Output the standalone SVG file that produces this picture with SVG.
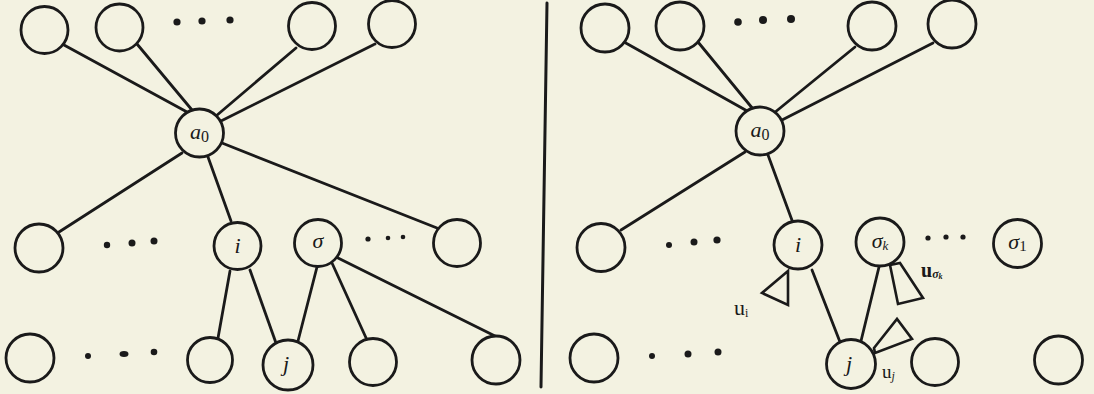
<svg xmlns="http://www.w3.org/2000/svg" width="1094" height="394" viewBox="0 0 1094 394">
<style>
.bg{fill:#f3f2e1}
.n{fill:#f3f2e1;stroke:#1a1a1a;stroke-width:2.8}
.e{stroke:#1a1a1a;stroke-width:2.8;stroke-linecap:round;fill:none}
.t{fill:none;stroke:#1a1a1a;stroke-width:2.6;stroke-linejoin:miter}
.d{fill:#1a1a1a}
.lbl{font-family:"Liberation Serif",serif;font-style:italic;font-size:22px;fill:#1a1a1a;text-anchor:middle}
.u{font-family:"Liberation Serif",serif;fill:#1a1a1a}
</style>
<rect class="bg" x="0" y="0" width="1094" height="394"/>
<g id="connectors">
  <line class="e" x1="64" y1="45" x2="187" y2="112"/>
  <line class="e" x1="137" y1="44" x2="192" y2="110"/>
  <line class="e" x1="296" y1="48" x2="216" y2="116"/>
  <line class="e" x1="375" y1="44" x2="221" y2="121"/>
  <line class="e" x1="182" y1="153" x2="59" y2="232"/>
  <line class="e" x1="208" y1="157" x2="231" y2="221"/>
  <line class="e" x1="222" y1="143" x2="437" y2="228"/>
  <line class="e" x1="230" y1="271" x2="218" y2="338"/>
  <line class="e" x1="250" y1="270" x2="276" y2="343"/>
  <line class="e" x1="317" y1="267" x2="298" y2="341"/>
  <line class="e" x1="332" y1="263" x2="367" y2="340"/>
  <line class="e" x1="338" y1="258" x2="497" y2="337"/>
  <line class="e" x1="624" y1="42" x2="749" y2="112"/>
  <line class="e" x1="698" y1="42" x2="753" y2="109"/>
  <line class="e" x1="855" y1="47" x2="774" y2="113"/>
  <line class="e" x1="933" y1="43" x2="782" y2="120"/>
  <line class="e" x1="745" y1="152" x2="621" y2="230"/>
  <line class="e" x1="768" y1="155" x2="793" y2="223"/>
  <line class="e" x1="812" y1="270" x2="840" y2="342"/>
  <line class="e" x1="879" y1="267" x2="861" y2="341"/>
</g>
<g id="divider">
  <line x1="547" y1="3" x2="541" y2="387" stroke="#1a1a1a" stroke-width="3" stroke-linecap="round"/>
</g>
<g id="dots">
  <circle class="d" cx="177" cy="22" r="3.6"/><circle class="d" cx="202" cy="21" r="3.6"/><circle class="d" cx="230" cy="20" r="3.6"/>
  <circle class="d" cx="107" cy="245" r="3.2"/><circle class="d" cx="132" cy="243" r="3.5"/><circle class="d" cx="154" cy="241" r="3.5"/>
  <circle class="d" cx="368" cy="239" r="2.6"/><circle class="d" cx="388" cy="238" r="2.3"/><circle class="d" cx="403" cy="237" r="2.3"/>
  <circle class="d" cx="88" cy="356" r="3"/><ellipse class="d" cx="124" cy="354" rx="4.5" ry="3"/><circle class="d" cx="154" cy="352" r="3.3"/>
  <circle class="d" cx="738" cy="22" r="3.8"/><circle class="d" cx="763" cy="20" r="4"/><circle class="d" cx="791" cy="19" r="4"/>
  <circle class="d" cx="669" cy="245" r="3"/><circle class="d" cx="694" cy="242" r="3.5"/><circle class="d" cx="717" cy="240" r="3.6"/>
  <circle class="d" cx="928" cy="238" r="2.6"/><circle class="d" cx="946" cy="237" r="2.6"/><circle class="d" cx="963" cy="237" r="2.6"/>
  <circle class="d" cx="652" cy="356" r="3"/><circle class="d" cx="688" cy="354" r="3.5"/><circle class="d" cx="718" cy="352" r="3.5"/>
</g>
<g id="L-top1"><circle class="n" cx="44.5" cy="30" r="23.5"/></g>
<g id="L-top2"><circle class="n" cx="119.5" cy="27.5" r="23.5"/></g>
<g id="L-top3"><circle class="n" cx="312" cy="26" r="23.5"/></g>
<g id="L-top4"><circle class="n" cx="392" cy="24" r="23.5"/></g>
<g id="L-a0"><circle class="n" cx="199.5" cy="133" r="24"/><text class="lbl" x="199.5" y="139">a<tspan font-size="16" dy="3" font-style="normal">0</tspan></text></g>
<g id="L-mid1"><circle class="n" cx="39" cy="248" r="24"/></g>
<g id="L-i"><circle class="n" cx="237.5" cy="246" r="23.5"/><text class="lbl" x="237.5" y="253">i</text></g>
<g id="L-sigma"><circle class="n" cx="318" cy="243" r="23.5"/><text class="lbl" x="318" y="248">σ</text></g>
<g id="L-mid4"><circle class="n" cx="457" cy="243" r="23.5"/></g>
<g id="L-bot1"><circle class="n" cx="30" cy="358" r="24"/></g>
<g id="L-bot2"><circle class="n" cx="210" cy="360" r="22.5"/></g>
<g id="L-j"><circle class="n" cx="288" cy="365" r="25"/><text class="lbl" x="286" y="371">j</text></g>
<g id="L-bot4"><circle class="n" cx="373" cy="362" r="23.5"/></g>
<g id="L-bot5"><circle class="n" cx="496" cy="360" r="24"/></g>

<g id="R-top1"><circle class="n" cx="605" cy="28" r="24"/></g>
<g id="R-top2"><circle class="n" cx="680" cy="26" r="24"/></g>
<g id="R-top3"><circle class="n" cx="872" cy="26" r="24"/></g>
<g id="R-top4"><circle class="n" cx="952" cy="24" r="24"/></g>
<g id="R-a0"><circle class="n" cx="760" cy="131" r="24"/><text class="lbl" x="760" y="137">a<tspan font-size="16" dy="3" font-style="normal">0</tspan></text></g>
<g id="R-mid1"><circle class="n" cx="601" cy="247.5" r="24"/></g>
<g id="R-i">
  <polygon class="t" points="788,271 762,293 788,305"/>
  <circle class="n" cx="798" cy="245" r="24"/><text class="lbl" x="798" y="252">i</text>
  <text class="u" x="734" y="315" font-size="22">u<tspan font-size="12" dy="2">i</tspan></text>
</g>
<g id="R-sigmak">
  <polygon class="t" points="890,265 898,304 923,298 900,263"/>
  <circle class="n" cx="880" cy="242" r="24"/><text class="lbl" x="880" y="248">σ<tspan font-size="13" dy="2">k</tspan></text>
  <text class="u" x="921" y="277" font-size="20" font-weight="bold">u<tspan font-size="12" dy="1" font-style="italic">σ</tspan><tspan font-size="8" dy="1" font-style="italic">k</tspan></text>
</g>
<g id="R-sigma1"><circle class="n" cx="1017.5" cy="243.5" r="24"/><text class="lbl" x="1017.5" y="249">σ<tspan font-size="15" dy="2" font-style="normal">1</tspan></text></g>
<g id="R-bot1"><circle class="n" cx="594" cy="358" r="24"/></g>
<g id="R-j">
  <polygon class="t" points="874,348 897,319 912,339 875,353"/>
  <circle class="n" cx="851" cy="364" r="24.5"/><text class="lbl" x="849" y="371">j</text>
  <text class="u" x="882" y="378" font-size="19">u<tspan font-size="12" dy="2" font-style="italic">j</tspan></text>
</g>
<g id="R-bot3"><circle class="n" cx="935" cy="362" r="23.5"/></g>
<g id="R-bot4"><circle class="n" cx="1058.5" cy="360" r="24"/></g>
</svg>
